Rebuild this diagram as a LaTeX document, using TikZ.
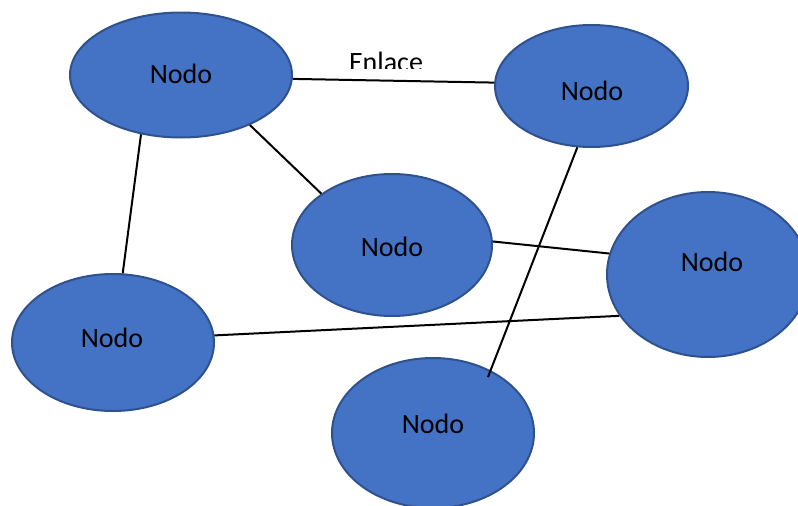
\documentclass[tikz,border=0pt]{standalone}
\usepackage{fontspec}
\setmainfont{Carlito}
\usetikzlibrary{shapes.geometric}
\definecolor{nodefill}{HTML}{4472C4}
\definecolor{nodeedge}{HTML}{2F528F}
\tikzset{
  nodo/.style={ellipse, fill=nodefill, draw=nodeedge, line width=2pt, inner sep=0pt},
  nodotext/.style={font=\fontsize{28}{32}\selectfont},
  enlace/.style={line width=2pt, black},
}
\begin{document}
\begin{tikzpicture}[x=1pt,y=-1pt]
\useasboundingbox (0,0) rectangle (798,506);
\clip (0,0) rectangle (798,506);
\node[nodo, minimum width=222pt, minimum height=125pt] (tl) at (181,75) {};
\node[nodo, minimum width=193pt, minimum height=122pt] (tr) at (591.5,86) {};
\node[nodo, minimum width=200pt, minimum height=142pt] (mid) at (392,245) {};
\node[nodo, minimum width=202pt, minimum height=165pt] (rt) at (708,274.5) {};
\node[nodo, minimum width=202pt, minimum height=137pt] (lf) at (113,342.5) {};
\node[nodo, minimum width=202pt, minimum height=150pt] (bt) at (433,433) {};
\node[nodotext] (tltext) at (181,74) {Nodo};
\node[nodotext] (trtext) at (592,91) {Nodo};
\node[nodotext] (midtext) at (392,247) {Nodo};
\node[nodotext] (rttext) at (712,262) {Nodo};
\node[nodotext] (lftext) at (112,338) {Nodo};
\node[nodotext] (bttext) at (433,424) {Nodo};
\begin{scope}
\clip (300,30) rectangle (480,68);
\node[nodotext, anchor=base] (lbl) at (386,71) {Enlace};
\end{scope}
\coordinate (btend) at ([shift={(55,-56)}]bt.center);
\draw[enlace] (tl.-2.6) -- (tr.178.8);
\draw[enlace] (tl.-36.7) -- (mid.144.7);
\draw[enlace] (tl.-124) -- (lf.82);
\draw[enlace] (tr.-103) -- (btend);
\draw[enlace] (mid.2) -- (rt.168);
\draw[enlace] (lf.4.5) -- (rt.205.8);
\end{tikzpicture}
\end{document}
